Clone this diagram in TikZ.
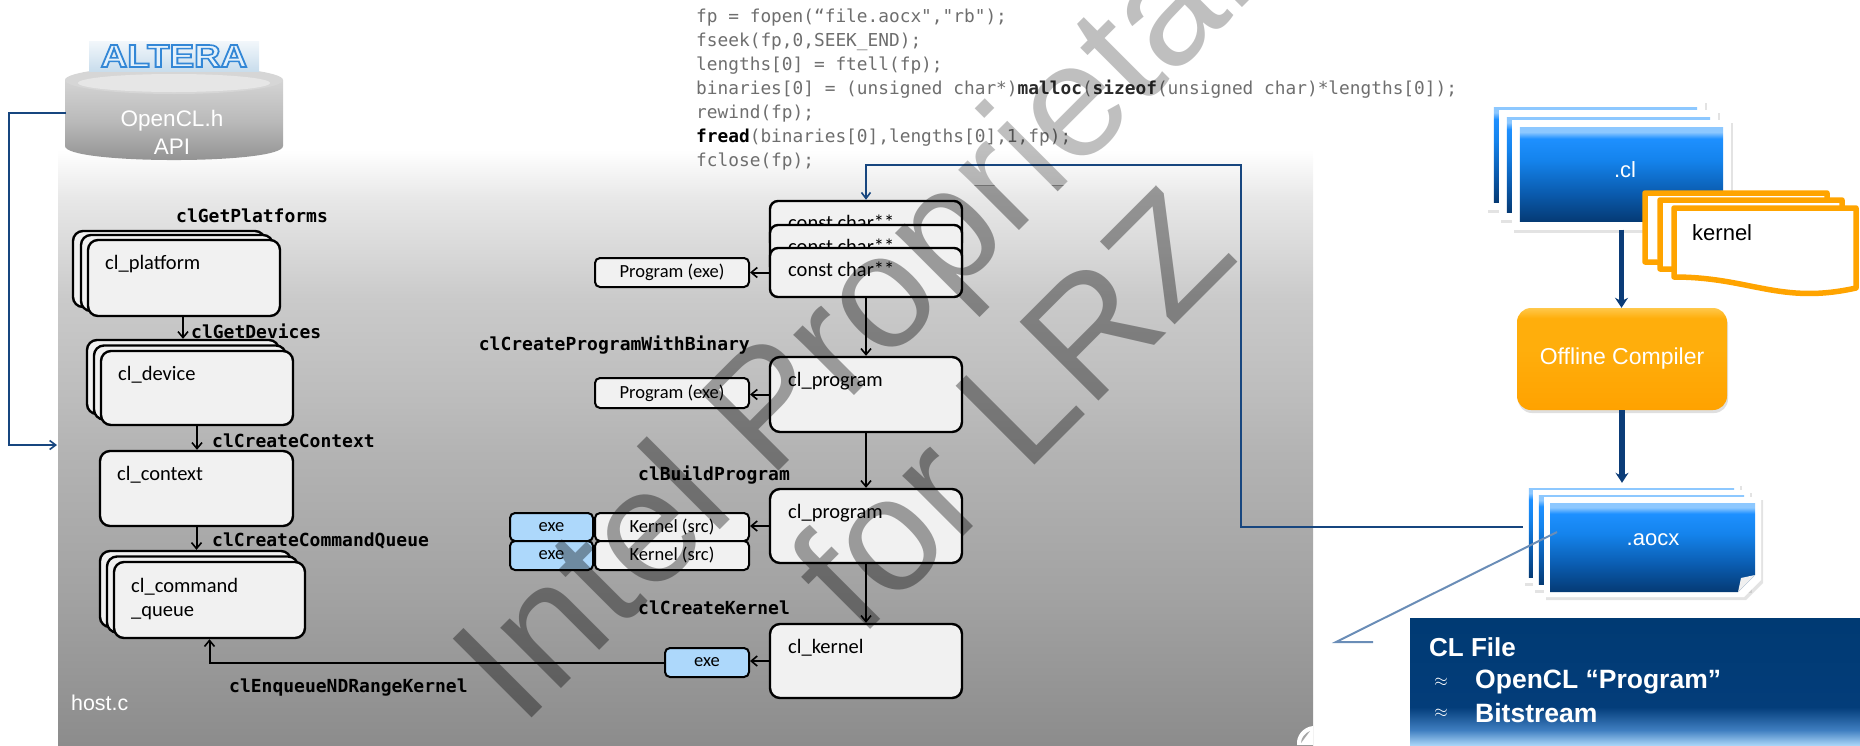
\documentclass[tikz,border=0pt]{standalone}
\usepackage{fontspec}
\setmainfont{Liberation Sans}
\newfontfamily\boxfont{Carlito}
\newfontfamily\codefont{DejaVu Sans Mono}
\usetikzlibrary{arrows.meta,calc,shadows}

\definecolor{boxfill}{HTML}{F1F1F1}
\definecolor{exeblue}{HTML}{ADD8FB}
\definecolor{codegray}{HTML}{6E6E6E}
\definecolor{codedark}{HTML}{2A2A2A}
\definecolor{linkblue}{HTML}{17467F}
\definecolor{flowblue}{HTML}{0B3C78}
\definecolor{kernorange}{HTML}{FFA400}
\definecolor{calloutblue}{HTML}{6A8DB7}
\definecolor{logofill}{HTML}{E4F1FB}
\definecolor{logobgA}{HTML}{C9DDEC}
\definecolor{logobgB}{HTML}{F2F7FB}
\definecolor{cyltop}{HTML}{D6D6D6}
\definecolor{cylface}{HTML}{E6E6E6}

% grey host panel (the box maps onto 25bp..75bp)
\definecolor{pgA}{HTML}{8C8C8C}
\definecolor{pgB}{HTML}{A2A2A2}
\definecolor{pgC}{HTML}{B4B4B4}
\definecolor{pgD}{HTML}{BCBCBC}
\definecolor{pgE}{HTML}{CACACA}
\definecolor{pgF}{HTML}{E8E8E8}
\pgfdeclareverticalshading{hostpanel}{100bp}{color(0bp)=(pgA); color(25bp)=(pgA); color(37.5bp)=(pgB); color(50bp)=(pgC); color(54bp)=(pgD); color(62.5bp)=(pgE); color(71bp)=(pgF); color(75bp)=(white); color(100bp)=(white)}

% blue file icons
\definecolor{dbA}{HTML}{053A74}
\definecolor{dbB}{HTML}{0A5BAE}
\definecolor{dbC}{HTML}{1483EC}
\definecolor{dbD}{HTML}{1E90FF}
\definecolor{dbE}{HTML}{8DC8FF}
\pgfdeclareverticalshading{docblue}{100bp}{color(0bp)=(dbA); color(25bp)=(dbA); color(40bp)=(dbB); color(57.5bp)=(dbC); color(69bp)=(dbD); color(72.5bp)=(dbE); color(100bp)=(dbE)}

% compiler box
\definecolor{ocA}{HTML}{FFA200}
\definecolor{ocB}{HTML}{FFAE0C}
\definecolor{ocC}{HTML}{FFC84A}
\pgfdeclareverticalshading{compiler}{100bp}{color(0bp)=(ocA); color(25bp)=(ocA); color(55bp)=(ocB); color(70bp)=(ocB); color(75bp)=(ocC); color(100bp)=(ocC)}

% CL file caption
\definecolor{cfA}{HTML}{A9D5F7}
\definecolor{cfB}{HTML}{3F7EC0}
\definecolor{cfC}{HTML}{033D7A}
\definecolor{cfD}{HTML}{003A73}
\pgfdeclareverticalshading{clfile}{100bp}{color(0bp)=(cfA); color(25bp)=(cfA); color(31bp)=(cfB); color(40bp)=(cfC); color(75bp)=(cfD); color(100bp)=(cfD)}

% API cylinder side
\definecolor{cyA}{HTML}{8E8E8E}
\definecolor{cyB}{HTML}{B9B9B9}
\definecolor{cyC}{HTML}{D4D4D4}
\pgfdeclareverticalshading{cylside}{100bp}{color(0bp)=(cyA); color(25bp)=(cyA); color(50bp)=(cyB); color(75bp)=(cyC); color(100bp)=(cyC)}

\tikzset{
  hbox/.style={draw=black, line width=2.4pt, rounded corners=10pt, fill=boxfill,
    inner sep=0pt, minimum width=192pt, minimum height=75pt},
  ccbox/.style={hbox, minimum height=49pt, rounded corners=8pt},
  sbox/.style={draw=black, line width=2pt, rounded corners=5pt, fill=boxfill,
    inner sep=0pt, minimum width=154pt, minimum height=29pt,
    font=\boxfont\fontsize{18.5}{20}\selectfont},
  exebox/.style={sbox, fill=exeblue, minimum width=83pt},
  boxtxt/.style={anchor=base west, inner sep=0pt, font=\boxfont\fontsize{20.5}{24}\selectfont},
  apilbl/.style={anchor=west, inner sep=0pt, text=black, font=\codefont\bfseries\fontsize{18}{20}\selectfont},
  codeln/.style={anchor=west, inner sep=0pt, text=codegray, font=\codefont\fontsize{17.8}{24}\selectfont},
  conn/.style={line width=2pt, -{Straight Barb[length=6pt,width=10pt,line width=1.6pt]}},
  linkline/.style={draw=linkblue, line width=2.4pt, -{Straight Barb[length=6pt,width=9pt,line width=1.6pt]}},
  flowarrow/.style={draw=flowblue, line width=5.5pt, -{Stealth[length=10pt,width=13pt]}},
  whitetxt/.style={inner sep=0pt, text=white},
  docframe/.style={fill=white, inner sep=0pt, minimum width=219pt, minimum height=110pt,
    drop shadow={opacity=0.22, shadow xshift=2pt, shadow yshift=-3pt}},
  kdoc/.style={draw=kernorange, fill=white, line width=5.5pt, line join=round},
  wmark/.style={rotate=45, anchor=base, inner sep=0pt, text=black,
    font=\fontsize{162}{177}\selectfont},
}

\begin{document}
\begin{tikzpicture}[x=1pt,y=-1pt]
\useasboundingbox (0,0) rectangle (1860,745);

% ---------------- host panel ----------------
\shade[shading=hostpanel] (58,150) rectangle (1313,745);
\fill[white] (1313,726) .. controls (1303,727) and (1296,736) .. (1297,745) -- (1313,745) -- cycle;
\fill[gray!70] (1310,731) .. controls (1305,733) and (1301,738) .. (1301,743) -- cycle;
\node[whitetxt, anchor=west, font=\fontsize{21.4}{24}\selectfont] (hostc) at (71,703) {host.c};

% ---------------- OpenCL.h API cylinder ----------------
\shade[shading=cylside] (65,80) -- (65,146) .. controls (65,164.7) and (283,164.7) .. (283,146) -- (283,80) -- cycle;
\fill[cyltop] (174,80) ellipse [x radius=109, y radius=14];
\fill[cylface] (174,83) ellipse [x radius=96, y radius=9];
% logo lettering: filled light, stroked blue
\node[inner sep=0pt, minimum width=170pt, minimum height=30pt, top color=logobgB, bottom color=logobgA,
      text=logofill, font=\bfseries\fontsize{32}{32}\selectfont] (logo) at (174,56)
  {\special{pdf:code 2 Tr 1.6 w 0.20 0.53 0.84 RG}\scalebox{1.15}[1]{ALTERA}\special{pdf:code 0 Tr}};
\node[whitetxt, align=center, font=\fontsize{22.5}{28}\selectfont] (api) at (172,132) {OpenCL.h\\API};

\coordinate (apiL) at (66,113);
\coordinate (routeL) at (9,445);
\coordinate (hostIn) at (57,445);
\draw[linkline] (apiL) -| (routeL) -- (hostIn);

% ---------------- host object chain ----------------
\node[hbox, minimum height=76pt] (platC) at (169,269) {};
\node[hbox, minimum height=76pt] (platB) at (177,273) {};
\node[hbox, minimum height=76pt] (platform) at (184,278) {};
\node[boxtxt] (platformT) at (105,269) {cl\_platform};

\node[hbox, minimum height=74pt] (devC) at (183,377) {};
\node[hbox, minimum height=74pt] (devB) at (190,382.5) {};
\node[hbox, minimum height=74pt] (device) at (197,388) {};
\node[boxtxt] (deviceT) at (118,380) {cl\_device};

\node[hbox, minimum width=193pt] (context) at (196.5,488.5) {};
\node[boxtxt] (contextT) at (117,480) {cl\_context};

\node[hbox, minimum width=191pt, minimum height=76pt] (queueC) at (195.5,589) {};
\node[hbox, minimum width=191pt, minimum height=76pt] (queueB) at (202.5,594.5) {};
\node[hbox, minimum width=191pt, minimum height=76pt] (queue) at (209.5,600) {};
\node[boxtxt] (queueT1) at (131,592) {cl\_command};
\node[boxtxt] (queueT2) at (131,616) {\_queue};

\draw[conn] (platform.south -| devC.north) -- (devC.north);
\draw[conn] (device.south) -- (device.south |- context.north);
\draw[conn] (context.south) -- (context.south |- queueC.north);

\node[apilbl] (lblPlat) at (176,216) {clGetPlatforms};
\node[apilbl] (lblDev) at (191,331) {clGetDevices};
\node[apilbl] (lblCtx) at (212,441) {clCreateContext};
\node[apilbl] (lblQueue) at (212,541) {clCreateCommandQueue};
\node[apilbl] (lblEnq) at (229,688) {clEnqueueNDRangeKernel};

% ---------------- binary loading code ----------------
\node[codeln] (code1) at (696,17.5) {fp = fopen(“file.aocx","rb");};
\node[codeln] (code2) at (696,41.5) {fseek(fp,0,SEEK\_END);};
\node[codeln] (code3) at (696,65.5) {lengths[0] = ftell(fp);};
\node[codeln] (code4) at (696,89.5) {binaries[0] = (unsigned char*)\textbf{\color{codedark}malloc}(\textbf{\color{codedark}sizeof}(unsigned char)*lengths[0]);};
\node[codeln] (code5) at (696,113.5) {rewind(fp);};
\node[codeln] (code6) at (696,137.5) {\textbf{\color{black}fread}(binaries[0],lengths[0],1,fp);};
\node[codeln] (code7) at (696,161.5) {fclose(fp);};

% ---------------- program / kernel chain ----------------
\coordinate (aocxIn) at (1523,527);
\coordinate (routeR) at (1241,165);

\node[ccbox] (ccA) at (866,225.5) {};
\node[boxtxt] (ccAT) at (788,229) {const char**};
\node[ccbox] (ccB) at (866,249.5) {};
\node[boxtxt] (ccBT) at (788,253) {const char**};
\node[ccbox] (ccC) at (866,272.5) {};
\node[boxtxt] (ccCT) at (788,276) {const char**};

\draw[linkline] (aocxIn) -| (routeR) -| (ccA.north);

\node[sbox] (progexeA) at (672,272.5) {Program (exe)};
\node[hbox] (progA) at (866,394.5) {};
\node[boxtxt] (progAT) at (788,386) {cl\_program};
\node[sbox, minimum height=30pt] (progexeB) at (672,393) {Program (exe)};
\node[hbox, minimum height=74pt] (progB) at (866,526) {};
\node[boxtxt] (progBT) at (788,518) {cl\_program};
\node[exebox, minimum height=28pt] (exeA) at (551.5,527) {exe};
\node[sbox, minimum height=28pt] (ksrcA) at (672,527) {Kernel (src)};
\node[exebox] (exeB) at (551.5,555.5) {exe};
\node[sbox] (ksrcB) at (672,555.5) {Kernel (src)};
\node[hbox, minimum height=74pt] (kernel) at (866,661) {};
\node[boxtxt] (kernelT) at (788,653) {cl\_kernel};
\node[exebox, minimum width=84pt] (kexe) at (707,662.5) {exe};

\draw[conn] (ccC.west) -- (progexeA.east);
\draw[conn] (ccC.south) -- (progA.north);
\draw[conn] (progA.west) -- (progA.west -| progexeB.east);
\draw[conn] (progA.south) -- (progB.north);
\draw[conn] (progB.west) -- (progB.west -| ksrcA.east);
\draw[conn] (progB.south) -- (kernel.north);
\draw[conn] (kernel.west) -- (kernel.west -| kexe.east);
\draw[conn] (kexe.west) -| (queue.south);

\node[apilbl, anchor=east] (lblBin) at (750,345) {clCreateProgramWithBinary};
\node[apilbl] (lblBuild) at (638,475) {clBuildProgram};
\node[apilbl] (lblKern) at (638,608) {clCreateKernel};

% ---------------- offline compilation flow ----------------
\node[docframe] (clC) at (1595.5,155) {};
\shade[shading=docblue] ($(clC.north west)+(8,8)$) rectangle ($(clC.south east)+(-8,-8)$);
\node[docframe] (clB) at (1608.5,165) {};
\shade[shading=docblue] ($(clB.north west)+(8,8)$) rectangle ($(clB.south east)+(-8,-8)$);
\node[docframe] (clA) at (1621.5,174.5) {};
\shade[shading=docblue] ($(clA.north west)+(8,8)$) rectangle ($(clA.south east)+(-8,-8)$);
\node[whitetxt, font=\fontsize{22}{24}\selectfont] (clT) at (1625,170) {.cl};

\begin{scope}[shift={(1645,193)}]
  \draw[kdoc] (0,0) -- (182,0) -- (182,80) .. controls (106,97) and (76,69) .. (0,69) -- cycle;
\end{scope}
\begin{scope}[shift={(1660,200)}]
  \draw[kdoc] (0,0) -- (182,0) -- (182,80) .. controls (106,97) and (76,69) .. (0,69) -- cycle;
\end{scope}
\begin{scope}[shift={(1674,208)}]
  \draw[kdoc] (0,0) -- (182,0) -- (182,80) .. controls (106,97) and (76,69) .. (0,69) -- cycle;
\end{scope}
\node[inner sep=0pt, anchor=west, font=\fontsize{22}{24}\selectfont] (kernT) at (1692,233) {kernel};

\node[inner sep=0pt, minimum width=210pt, minimum height=102pt, rounded corners=14pt,
      shading=compiler, shade, text=white, font=\fontsize{23}{26}\selectfont,
      drop shadow={opacity=0.25, shadow xshift=1pt, shadow yshift=-3pt}] (offline) at (1622,359) {Offline Compiler};

\node[docframe, minimum width=217pt, minimum height=100pt] (aocxC) at (1631.5,533) {};
\shade[shading=docblue] ($(aocxC.north west)+(6,6)$) rectangle ($(aocxC.south east)+(-6,-6)$);
\node[docframe, minimum width=217pt, minimum height=100pt] (aocxB) at (1641.5,540) {};
\shade[shading=docblue] ($(aocxB.north west)+(6,6)$) rectangle ($(aocxB.south east)+(-6,-6)$);
\node[inner sep=0pt, minimum width=217pt, minimum height=100pt] (aocxA) at (1652.5,547) {};
\fill[white, drop shadow={opacity=0.22, shadow xshift=2pt, shadow yshift=-3pt}]
  (1544,497) -- (1761,497) -- (1761,580) -- (1744,597) -- (1544,597) -- cycle;
\shade[shading=docblue] (1550,503) -- (1755,503) -- (1755,575) -- (1738,592) -- (1550,592) -- cycle;
\fill[white!88!gray] (1738,592) -- (1755,575) -- (1741,578) -- cycle;
\node[whitetxt, font=\fontsize{22}{24}\selectfont] (aocxT) at (1653,540) {.aocx};

\draw[flowarrow] (clA.south) -- (clA.south |- offline.north);
\draw[flowarrow] (offline.south) -- (offline.south |- aocxC.north);

% ---------------- CL file caption ----------------
\node[anchor=north west, inner sep=0pt, minimum width=450pt, minimum height=127pt,
      shade, shading=clfile] (clfile) at (1410,618) {};
\node[whitetxt, anchor=west, font=\bfseries\fontsize{26}{28}\selectfont] (clfT) at (1429,647) {CL File};
\node[whitetxt, font=\fontsize{17}{17}\selectfont] (apx1) at (1441,682) {$\approx$};
\node[whitetxt, anchor=west, font=\bfseries\fontsize{26.5}{28}\selectfont] (cfProg) at (1475,682) {OpenCL “Program”};
\node[whitetxt, font=\fontsize{17}{17}\selectfont] (apx2) at (1441,713) {$\approx$};
\node[whitetxt, anchor=west, font=\bfseries\fontsize{26.5}{28}\selectfont] (cfBits) at (1475,713) {Bitstream};

\coordinate (co1) at (1557,532);
\coordinate (co2) at (1336,642);
\coordinate (co3) at (1373,642);
\draw[calloutblue, line width=2pt] (co1) -- (co2) -- (co3);

% ---------------- watermark ----------------
\begin{scope}
  \clip (58,185) rectangle (1313,745);
  \node[wmark, text opacity=0.36] (wm1) at (926,324) {Intel Proprietary};
  \node[wmark, text opacity=0.36] (wm2) at (1051,449) {for LRZ};
\end{scope}
\begin{scope}
  \clip (0,0) rectangle (1860,185) (0,185) rectangle (58,745) (1313,185) rectangle (1860,745);
  \node[wmark, text opacity=0.25] (wm1o) at (926,324) {Intel Proprietary};
  \node[wmark, text opacity=0.25] (wm2o) at (1051,449) {for LRZ};
\end{scope}
\end{tikzpicture}
\end{document}
